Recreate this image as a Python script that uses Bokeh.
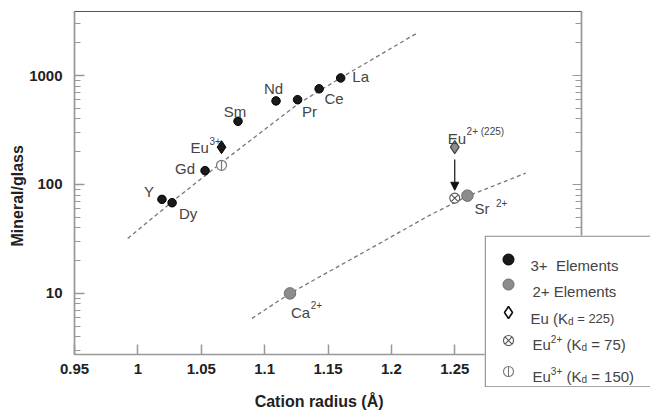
import numpy as np
from bokeh.plotting import figure
from bokeh.models import (Range1d, FixedTicker, LogAxis, Title, Arrow, NormalHead,
                          ColumnDataSource)
from bokeh.core.properties import value
from bokeh.embed import file_html
from bokeh.resources import INLINE

# ---------------- data ----------------
ree3_names = ["Y", "Dy", "Gd", "Sm", "Nd", "Pr", "Ce", "La"]
ree3_radius = [1.019, 1.027, 1.053, 1.079, 1.109, 1.126, 1.143, 1.160]
ree3_kd = [73, 68, 134, 380, 585, 600, 755, 950]

ree2_names = ["Ca", "Sr"]
ree2_radius = [1.120, 1.260]
ree2_kd = [10, 79]

eu_bulk_radius = [1.066, 1.250]      # Eu plotted with bulk Kd = 225
eu_bulk_kd = [220, 220]
eu3_radius = [1.066]
eu3_kd = [150]
eu2_radius = [1.250]
eu2_kd = [75]

fit3_radius = [0.992, 1.030, 1.067, 1.127, 1.161, 1.221]
fit3_kd = [32, 74, 162, 556, 966, 2480]
fit2_radius = [1.090, 1.120, 1.190, 1.230, 1.260, 1.306]
fit2_kd = [5.9, 10, 28.5, 52, 78, 127]

x_ticks = [0.95, 1.0, 1.05, 1.1, 1.15, 1.2, 1.25, 1.3]
x_tick_labels = ["0.95", "1", "1.05", "1.1", "1.15", "1.2", "1.25", "1.3"]
y_ticks = [10, 100, 1000]
y_tick_labels = ["10", "100", "1000"]
y_minor_ticks = [m * d for d in (1, 10, 100, 1000) for m in range(2, 10)]

x_title = "Cation radius (Å)"
y_title = "Mineral/glass"

# legend rows: list of (text, font px, baseline shift px)
legend_rows = [
    [("3+\u00a0 Elements", 15, 0)],
    [("2+ Elements", 15, 0)],
    [("Eu (K", 15, 0), ("d", 10, -3), (" = 225)", 13, 0)],
    [("Eu", 15, 0), ("2+", 10, 6), (" (K", 15, 0), ("d", 10, -3), (" = 75)", 15, 0)],
    [("Eu", 15, 0), ("3+", 10, 6), (" (K", 15, 0), ("d", 10, -3), (" = 150)", 15, 0)],
]

FONT = "Liberation Sans"
LBL = "#444444"

# approximate Arial/Liberation Sans regular advance widths (per 1000 em)
W = {' ': 278, '\u00a0': 278, '(': 333, ')': 333, '+': 584, '=': 584, 'E': 667,
     'K': 667, 'u': 556, 'd': 556, 'S': 667, 'r': 333, 'C': 722, 'a': 556, 'l': 222,
     'e': 556, 'm': 833, 'n': 556, 't': 278, 's': 500}


def tw(s, size):
    return sum(W.get(c, 556) for c in s) * size / 1000.0


# ================= main figure =================
p = figure(width=650, height=415, output_backend="svg", toolbar_location=None,
           x_range=Range1d(0.95, 1.35), y_range=Range1d(2.75, 3870),
           y_axis_type="log", min_border_left=74, min_border_right=69,
           min_border_top=11, min_border_bottom=61)
p.grid.visible = False
p.outline_line_color = "#555555"
p.outline_line_width = 1.2
p.background_fill_color = "white"

xa = p.xaxis[0]
xa.ticker = FixedTicker(ticks=x_ticks, minor_ticks=[])
xa.major_label_overrides = {t: l for t, l in zip(x_ticks, x_tick_labels)}
ya = p.yaxis[0]
ya.ticker = FixedTicker(ticks=y_ticks, minor_ticks=y_minor_ticks)
ya.major_label_overrides = {t: l for t, l in zip(y_ticks, y_tick_labels)}
for ax in (xa, ya):
    ax.axis_line_color = "#999999"
    ax.axis_line_width = 1.5
    ax.major_tick_line_color = "#999999"
    ax.minor_tick_line_color = "#999999"
    ax.major_tick_line_width = 1.5
    ax.major_tick_in = 10
    ax.major_tick_out = 0
    ax.minor_tick_in = 6
    ax.minor_tick_out = 0
    ax.major_label_text_font = FONT
    ax.major_label_text_font_style = "bold"
    ax.major_label_text_font_size = "15px"
    ax.major_label_text_color = "#222222"
xa.major_label_standoff = 9
ya.major_label_standoff = 12

# x title: trailing no-break spaces nudge the centred title slightly left
xa.axis_label = x_title + "\u00a0" * 4
xa.axis_label_standoff = 16
xa.axis_label_text_font = FONT
xa.axis_label_text_font_style = "bold"
xa.axis_label_text_font_size = "16px"
xa.axis_label_text_color = "#222222"

ra = LogAxis(ticker=FixedTicker(ticks=y_ticks, minor_ticks=y_minor_ticks),
             axis_line_color="#999999", axis_line_width=1.5,
             major_tick_line_color="#999999", minor_tick_line_color="#999999",
             major_tick_in=9, major_tick_out=0, minor_tick_in=6, minor_tick_out=0,
             major_label_overrides={t: "" for t in y_ticks})
p.add_layout(ra, "right")

p.add_layout(Title(text=y_title, align="left", offset=108, standoff=2,
                   text_font=FONT, text_font_style="bold", text_font_size="16px",
                   text_color="#222222"), "left")

# fitted (dashed) curves
p.line(fit3_radius, fit3_kd, line_color="#777777", line_width=1.3, line_dash="4 3")
p.line(fit2_radius, fit2_kd, line_color="#777777", line_width=1.3, line_dash="4 3")

# points
p.scatter(ree3_radius, ree3_kd, marker="circle", size=8.5, fill_color="#1a1a1a",
          line_color="#000000")
p.scatter(ree2_radius, ree2_kd, marker="circle", size=11.5, fill_color="#8c8c8c",
          line_color="#6a6a6a")
p.scatter(eu_bulk_radius[:1], eu_bulk_kd[:1], marker="diamond", size=13,
          fill_color="#1a1a1a", line_color="#000000")
p.scatter(eu_bulk_radius[1:], eu_bulk_kd[1:], marker="diamond", size=13,
          fill_color="#8c8c8c", line_color="#444444", line_width=1.2)
p.scatter(eu3_radius, eu3_kd, marker="circle", size=10, fill_color="white",
          line_color="#777777", line_width=1.2)
p.scatter(eu3_radius, eu3_kd, marker="dash", size=10, angle=np.pi / 2,
          line_color="#777777", line_width=1.2)
p.scatter(eu2_radius, eu2_kd, marker="circle_x", size=10, fill_color="white",
          line_color="#555555", line_width=1.1)

# arrow Eu(225) -> Eu2+(75)
p.add_layout(Arrow(end=NormalHead(size=8, fill_color="#111111", line_color="#111111"),
                   x_start=eu2_radius[0], y_start=eu_bulk_kd[1] / 1.3,
                   x_end=eu2_radius[0], y_end=eu2_kd[0] * 1.18,
                   line_color="#111111", line_width=1.2))

# point labels (simple)
lab_dx = [-13, 16, -20, -3, -2.5, 12, 15, 20]
lab_dy = [-8, 10.5, -2.5, -10, -12, 12, 10, -1]
p.text(x=ree3_radius, y=ree3_kd, text=ree3_names, x_offset=lab_dx, y_offset=lab_dy,
       text_align="center", text_baseline="middle", text_font=value(FONT),
       text_font_size="15px", text_color=LBL)

# rich labels (base + superscript)
rich_x = [eu_bulk_radius[0], eu_bulk_radius[1], ree2_radius[0], ree2_radius[1]]
rich_y = [eu_bulk_kd[0], eu_bulk_kd[1], ree2_kd[0], ree2_kd[1]]
rich_base = ["Eu", "Eu", ree2_names[0], ree2_names[1]]
rich_sup = ["3+", "2+ (225)", "2+", "2+"]
rich_dx = [-31, -7, 1, 7]
rich_dy = [0, -9, 19, 13]
rich_gap = [0.5, 0.5, 0.5, 6.5]
rich_raise = [6, 7, 7, 6]
p.text(x=rich_x, y=rich_y, text=rich_base, x_offset=rich_dx, y_offset=rich_dy,
       text_align="left", text_baseline="alphabetic", text_font=value(FONT),
       text_font_size="15px", text_color=LBL)
p.text(x=rich_x, y=rich_y, text=rich_sup,
       x_offset=[dx + tw(b, 15) + g for dx, b, g in zip(rich_dx, rich_base, rich_gap)],
       y_offset=[dy - r for dy, r in zip(rich_dy, rich_raise)],
       text_align="left", text_baseline="alphabetic", text_font=value(FONT),
       text_font_size="10px", text_color=LBL)

# ================= legend panel (absolutely placed over the main figure) =================
LW, LH = 166, 152
leg = figure(width=LW, height=LH, output_backend="svg", toolbar_location=None,
             x_range=Range1d(0, LW), y_range=Range1d(0, LH),
             x_axis_type=None, y_axis_type=None, min_border=0)
leg.outline_line_color = None
leg.background_fill_color = "white"
leg.border_fill_color = "white"
leg.styles = {"position": "absolute", "left": "484px", "top": "235px", "z-index": "10"}

# box (its right side runs off the page as in the reference)
leg.quad(left=[0.7], right=[LW + 20], bottom=[0.7], top=[LH - 0.7],
         fill_color="white", line_color="#888888", line_width=1.3)

row_cy = [128, 103, 75, 47, 16]
gx = 24
leg.scatter([gx], [row_cy[0]], marker="circle", size=11, fill_color="#1a1a1a",
            line_color="#000000")
leg.scatter([gx], [row_cy[1]], marker="circle", size=11, fill_color="#8c8c8c",
            line_color="#6a6a6a")
leg.scatter([gx], [row_cy[2]], marker="diamond", size=12, fill_color="white",
            line_color="#111111", line_width=1.6)
leg.scatter([gx], [row_cy[3]], marker="circle_x", size=10, fill_color="white",
            line_color="#555555", line_width=1.1)
leg.scatter([gx], [row_cy[4]], marker="circle", size=10, fill_color="white",
            line_color="#777777", line_width=1.1)
leg.scatter([gx], [row_cy[4]], marker="dash", size=10, angle=np.pi / 2,
            line_color="#777777", line_width=1.1)

row_x0 = [46, 48, 46, 48, 48]
row_base = [122, 96, 69, 43, 11]
seg = dict(x=[], y=[], text=[], size=[])
for row, x0, yb in zip(legend_rows, row_x0, row_base):
    x = x0
    for txt, sz, sh in row:
        body = txt.lstrip(" ")
        seg["x"].append(x + tw(txt[:len(txt) - len(body)], sz))
        seg["y"].append(yb + sh)
        seg["text"].append(body)
        seg["size"].append(f"{sz}px")
        x += tw(txt, sz)
leg.text(x="x", y="y", text="text", text_font_size="size", source=ColumnDataSource(seg),
         text_align="left", text_baseline="alphabetic", text_font=value(FONT),
         text_color=LBL)

open("out.html", "w").write(file_html([p, leg], INLINE))
